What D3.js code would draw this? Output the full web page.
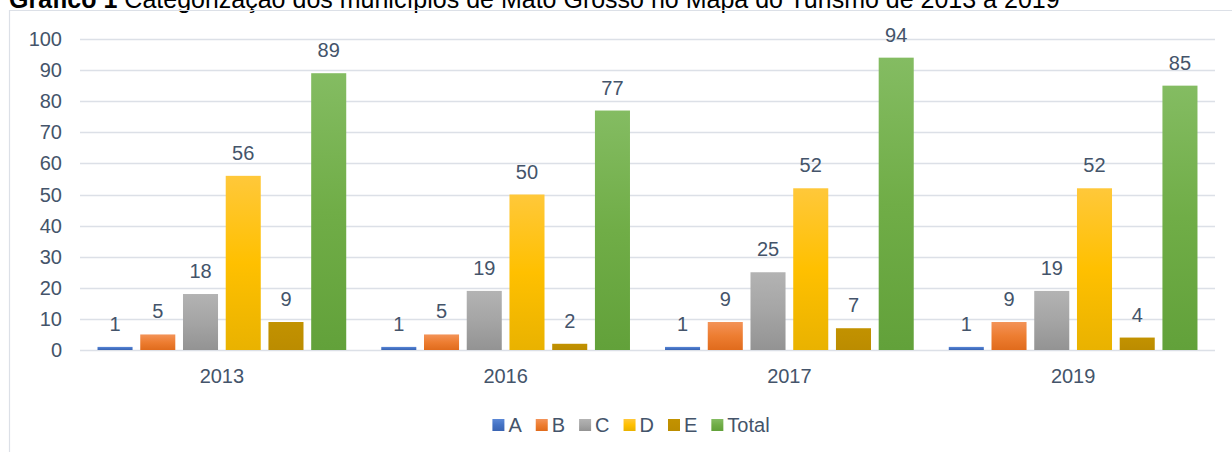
<!DOCTYPE html>
<html>
<head>
<meta charset="utf-8">
<script src="https://cdn.jsdelivr.net/npm/d3@7"></script>
<style>
  html, body { margin: 0; padding: 0; background: #fff; }
  svg { display: block; font-family: "Liberation Sans", Arial, sans-serif; }
</style>
</head>
<body>
<svg id="chart" width="1232" height="452"></svg>
<script>
const years = ["2013", "2016", "2017", "2019"];
const seriesNames = ["A", "B", "C", "D", "E", "Total"];
const valuesA = [1, 1, 1, 1];
const valuesB = [5, 5, 9, 9];
const valuesC = [18, 19, 25, 19];
const valuesD = [56, 50, 52, 52];
const valuesE = [9, 2, 7, 4];
const valuesTotal = [89, 77, 94, 85];
const yTicks = [0, 10, 20, 30, 40, 50, 60, 70, 80, 90, 100];
const titleBold = "Gráfico 1";
const titleRest = " Categorização dos municípios de Mato Grosso no Mapa do Turismo de 2013 a 2019";

const seriesValues = [valuesA, valuesB, valuesC, valuesD, valuesE, valuesTotal];
const colors = {
  A: ["#5B88D6", "#4472C4", "#3A64B2"],
  B: ["#F39358", "#ED7D31", "#E06B1C"],
  C: ["#B3B3B3", "#A5A5A5", "#939393"],
  D: ["#FFC83A", "#FFC000", "#E9B200"],
  E: ["#C29200", "#BF8F00", "#BB8C00"],
  Total: ["#84BC62", "#70AD47", "#62A13A"]
};
const textColor = "#44546A";
const gridColor = "#DCE0E7";

const svg = d3.select("#chart");
const defs = svg.append("defs");
seriesNames.forEach((k, i) => {
  const g = defs.append("linearGradient").attr("id", "grad" + i)
    .attr("x1", 0).attr("y1", 0).attr("x2", 0).attr("y2", 1);
  g.append("stop").attr("offset", "0%").attr("stop-color", colors[k][0]);
  g.append("stop").attr("offset", "50%").attr("stop-color", colors[k][1]);
  g.append("stop").attr("offset", "100%").attr("stop-color", colors[k][2]);
});

// Title (partially cut off at top, as in the reference)
const title = svg.append("text").attr("x", 9).attr("y", 8)
  .attr("font-size", 25).attr("fill", "#000");
title.append("tspan").attr("font-weight", "bold").text(titleBold);
title.append("tspan").text(titleRest);

// Frame
svg.append("path")
  .attr("d", "M9.5,460 L9.5,10.5 L1260,10.5")
  .attr("fill", "none").attr("stroke", gridColor).attr("stroke-width", 1.2);

const plotLeft = 80, plotRight = 1215, plotTop = 39, plotBottom = 350;
const y = d3.scaleLinear().domain([0, 100]).range([plotBottom, plotTop]);
const x0 = d3.scaleBand().domain(years).range([plotLeft, plotRight]).padding(0);
const x1 = d3.scaleBand().domain(seriesNames).range([0, x0.bandwidth()])
  .paddingInner(0.18).paddingOuter(0.41);

// Gridlines
svg.append("g").selectAll("line").data(yTicks).join("line")
  .attr("x1", plotLeft).attr("x2", plotRight)
  .attr("y1", d => Math.round(y(d)) + 0.5).attr("y2", d => Math.round(y(d)) + 0.5)
  .attr("stroke", gridColor).attr("stroke-width", d => d === 0 ? 1.6 : 1.3);

// Y tick labels
svg.append("g").selectAll("text").data(yTicks).join("text")
  .attr("x", 62).attr("y", d => y(d)).attr("dy", "0.35em")
  .attr("text-anchor", "end").attr("font-size", 20).attr("fill", textColor)
  .text(d => d);

// Bars
const groups = svg.append("g").selectAll("g").data(years).join("g")
  .attr("transform", d => `translate(${x0(d)},0)`);
groups.each(function (yr, yi) {
  const g = d3.select(this);
  const data = seriesNames.map((k, si) => ({ k, si, v: seriesValues[si][yi] }));
  g.selectAll("rect").data(data).join("rect")
    .attr("x", d => x1(d.k)).attr("width", x1.bandwidth())
    .attr("y", d => y(d.v)).attr("height", d => y(0) - y(d.v))
    .attr("fill", d => `url(#grad${d.si})`);
  g.selectAll("text").data(data).join("text")
    .attr("x", d => x1(d.k) + x1.bandwidth() / 2).attr("y", d => y(d.v) - 16)
    .attr("text-anchor", "middle").attr("font-size", 20).attr("fill", textColor)
    .text(d => d.v);
});

// Category labels
svg.append("g").selectAll("text").data(years).join("text")
  .attr("x", d => x0(d) + x0.bandwidth() / 2).attr("y", 383)
  .attr("text-anchor", "middle").attr("font-size", 20).attr("fill", textColor)
  .text(d => d);

// Legend
const legend = svg.append("g");
const items = legend.selectAll("g").data(seriesNames).join("g");
items.append("rect").attr("width", 12).attr("height", 12).attr("y", 419)
  .attr("fill", (d, i) => `url(#grad${i})`);
items.append("text").attr("x", 16).attr("y", 432).attr("font-size", 20)
  .attr("fill", textColor).text(d => d);
const widths = [];
items.each(function () {
  const w = 16 + d3.select(this).select("text").node().getComputedTextLength();
  widths.push(w);
});
const gap = 14;
const total = d3.sum(widths) + gap * (widths.length - 1);
let startX = 631 - total / 2;
items.attr("transform", (d, i) => {
  const t = `translate(${startX},0)`;
  startX += widths[i] + gap;
  return t;
});
</script>
</body>
</html>
